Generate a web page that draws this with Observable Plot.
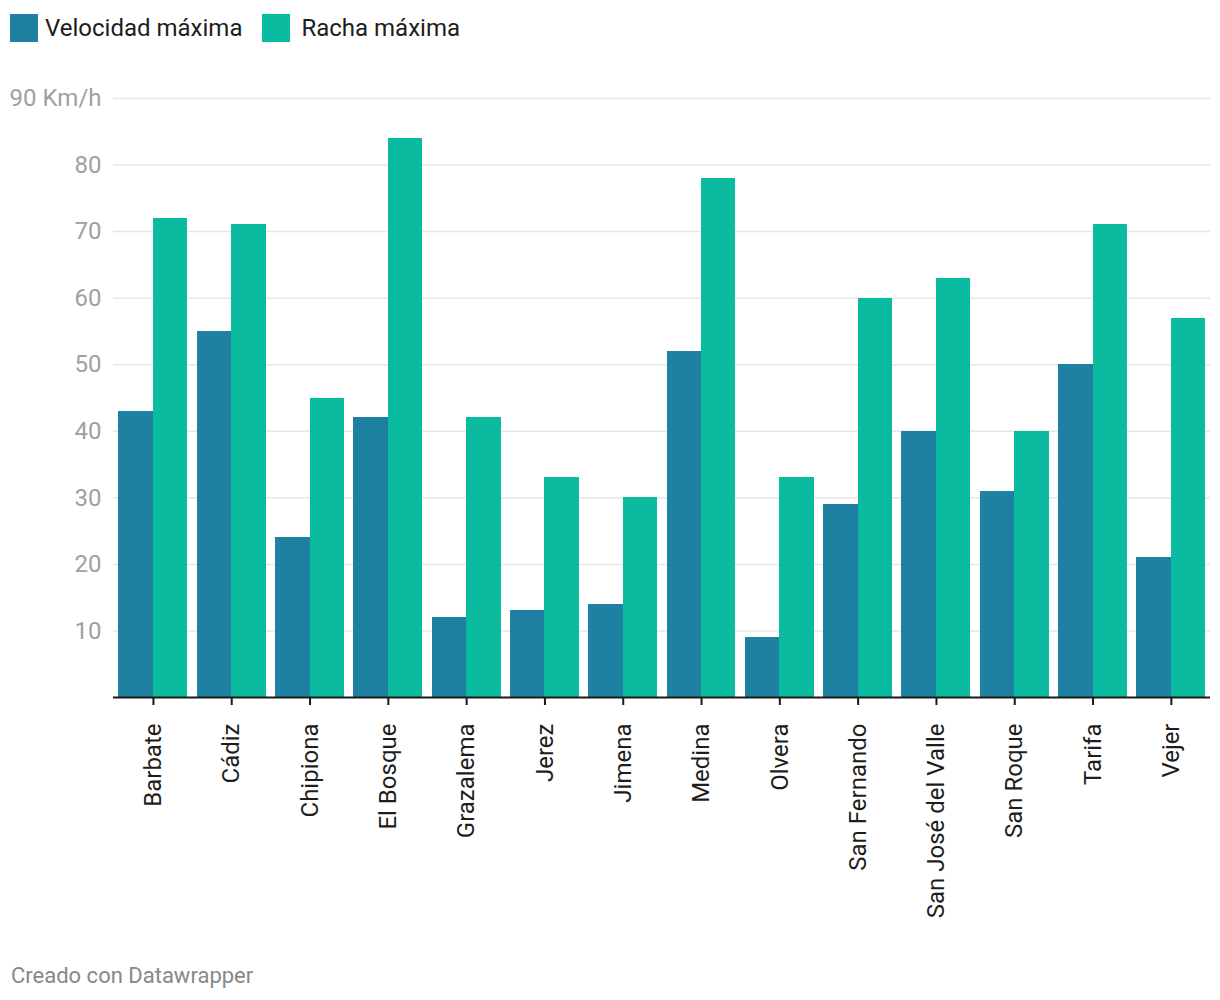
<!DOCTYPE html>
<html>
<head>
<meta charset="utf-8">
<script src="https://cdn.jsdelivr.net/npm/d3@7"></script>
<script src="https://cdn.jsdelivr.net/npm/@observablehq/plot@0.6"></script>
<style>
  body { margin: 0; background: #fff; font-family: Roboto, sans-serif; }
  #legend { height: 56px; display: flex; align-items: flex-start; padding-left: 10px; }
  .item { display: flex; align-items: center; margin-top: 14px; margin-right: 20px; font-size: 24px; color: #1d1d1d; }
  .sw { width: 28px; height: 28px; margin-right: 10px; }
  #caption { margin-top: 36px; padding-left: 11px; font-size: 22px; color: #888; }
</style>
</head>
<body>
<div id="legend"></div>
<div id="chart"></div>
<div id="caption">Creado con Datawrapper</div>
<script>
const categories = ["Barbate","Cádiz","Chipiona","El Bosque","Grazalema","Jerez","Jimena","Medina","Olvera","San Fernando","San José del Valle","San Roque","Tarifa","Vejer"];
const series = ["Velocidad máxima","Racha máxima"];
const colors = ["#1e81a2","#0abb9f"];
const velocidad = [43,55,24,42,12,13,14,52,9,29,40,31,50,21];
const racha = [72,71,45,84,42,33,30,78,33,60,63,40,71,57];
const yTicks = [10,20,30,40,50,60,70,80,90];
const yUnit = " Km/h";

const half = 0.44; // half of a group's width, in category units
const data = [];
categories.forEach((c, i) => {
  data.push({i, cat: c, serie: series[0], value: velocidad[i], x1: i - half, x2: i});
  data.push({i, cat: c, serie: series[1], value: racha[i], x1: i, x2: i + half});
});

const legend = document.getElementById("legend");
series.forEach((s, i) => {
  const it = document.createElement("div");
  it.className = "item";
  it.style.marginRight = i === 0 ? "20px" : "0";
  it.innerHTML = `<div class="sw" style="background:${colors[i]};margin-right:${i === 0 ? 7 : 11}px"></div><span>${s}</span>`;
  legend.appendChild(it);
});

const chart = Plot.plot({
  width: 1220,
  height: 871,
  marginTop: 42,
  marginBottom: 230,
  marginLeft: 113,
  marginRight: 10,
  style: {fontFamily: "Roboto, sans-serif", background: "#fff"},
  x: {domain: [-0.51, categories.length - 0.5], axis: null},
  y: {domain: [0, 90], axis: null},
  color: {domain: series, range: colors},
  marks: [
    Plot.ruleY(yTicks, {stroke: "#e6e6e6", strokeWidth: 1.5}),
    Plot.rectY(data, {x1: "x1", x2: "x2", y: "value", fill: "serie", shapeRendering: "crispEdges"}),
    Plot.ruleY([0], {stroke: "#1a1a1a", strokeWidth: 2}),
    Plot.axisY({
      ticks: yTicks,
      tickSize: 0,
      tickPadding: 12,
      fontSize: 24,
      fill: "#a0a0a0",
      label: null,
      tickFormat: d => d === 90 ? d + yUnit : String(d)
    }),
    Plot.axisX(d3.range(categories.length), {
      anchor: "bottom",
      tickRotate: -90,
      tickSize: 8,
      tickPadding: 18,
      strokeWidth: 2,
      stroke: "#1a1a1a",
      fontSize: 24,
      fill: "#1d1d1d",
      tickFormat: i => categories[i],
      label: null
    })
  ]
});
document.getElementById("chart").appendChild(chart);
</script>
</body>
</html>
